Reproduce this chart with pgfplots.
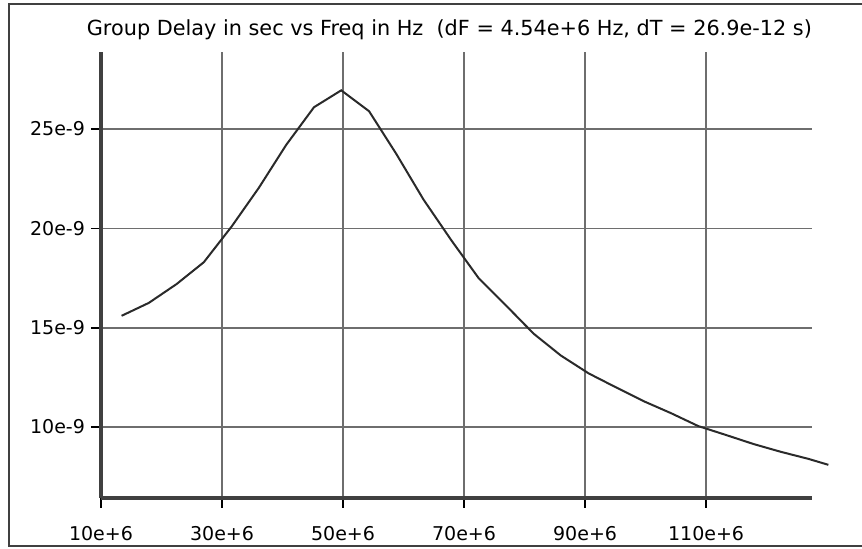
\documentclass[border=0pt]{standalone}
\usepackage{pgfplots}
\pgfplotsset{compat=1.18}
\usepackage{fontspec}
\setmainfont{DejaVu Sans}

\definecolor{gridc}{HTML}{6E6E6E}
\definecolor{axisc}{HTML}{404040}
\definecolor{curvec}{HTML}{2A2A2A}

\begin{document}
\begin{tikzpicture}
\begin{axis}[
    at={(0,0)}, anchor=south west,
    scale only axis,
    width=355.5pt, height=223pt,
    xmin=10, xmax=127.5,
    ymin=6.43, ymax=28.88,
    axis lines=left,
    axis line style={-, line width=1.7pt, color=axisc},
    xtick={10,30,50,70,90,110},
    xticklabels={10e+6,30e+6,50e+6,70e+6,90e+6,110e+6},
    ytick={10,15,20,25},
    yticklabels={10e-9,15e-9,20e-9,25e-9},
    grid=major,
    major grid style={line width=0.9pt, color=gridc},
    tick align=outside,
    major tick length=5pt,
    tick style={line width=0.9pt, color=black},
    font=\fontsize{9.5}{11}\selectfont,
    xticklabel style={yshift=-5.5pt},
    yticklabel style={xshift=0.5pt},
    title={Group Delay in sec vs Freq in Hz\ \ (dF = 4.54e+6 Hz, dT = 26.9e-12 s)},
    title style={at={(0.49,1)}, anchor=center, yshift=5pt,
        font=\fontsize{10.4}{12}\selectfont},
    clip=false,
]
\addplot [color=curvec, line width=1pt] coordinates {
    (13.4,15.6) (17.9,16.25) (22.5,17.2) (27.0,18.3) (31.6,20.1)
    (36.1,22.05) (40.6,24.2) (45.2,26.1) (49.7,26.95) (54.3,25.9)
    (58.8,23.75) (63.3,21.45) (67.9,19.4) (72.4,17.5) (77.0,16.1)
    (81.5,14.7) (86.0,13.6) (90.6,12.7) (95.1,12.0) (99.7,11.3)
    (104.2,10.7) (108.7,10.05) (113.3,9.6) (117.8,9.15) (122.4,8.75)
    (126.9,8.4) (130.2,8.1)
};
\end{axis}
\draw[line width=1.1pt, color=axisc] (-46pt,-24pt) rectangle (385pt,247pt);
\pgfresetboundingbox
\useasboundingbox (-50.5pt,-25.5pt) rectangle (380.5pt,249pt);
\end{tikzpicture}
\end{document}
